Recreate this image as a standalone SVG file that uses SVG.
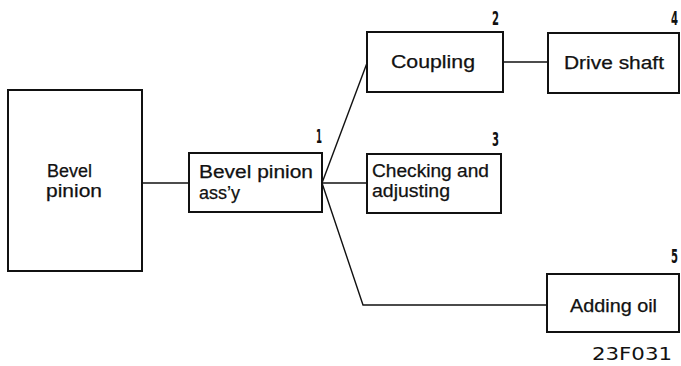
<svg xmlns="http://www.w3.org/2000/svg" width="681" height="366" viewBox="0 0 681 366">
<style>
.box{fill:#fff;stroke:#111;stroke-width:2}
.lbl{font-family:"Liberation Sans",Arial,sans-serif;font-size:17.5px;fill:#111;stroke:#111;stroke-width:0.25}
.num{font-family:"Liberation Sans Narrow","DejaVu Sans Condensed","Liberation Sans",sans-serif;font-size:20px;font-weight:bold;fill:#111;text-anchor:end}
.code{font-family:"DejaVu Sans","Liberation Sans",sans-serif;font-size:17px;fill:#111}
.conn{fill:none;stroke:#111;stroke-width:1.4}
</style>
<rect width="681" height="366" fill="#fff"/>
<g id="connectors">
<line class="conn" x1="142" y1="183" x2="189" y2="183"/>
<line class="conn" x1="322" y1="183" x2="367" y2="63"/>
<line class="conn" x1="322" y1="183" x2="367" y2="183"/>
<polyline class="conn" points="322,183 363,305 547,305"/>
<line class="conn" x1="503" y1="62" x2="548" y2="62"/>
</g>
<g id="bevel-pinion">
<rect class="box" x="8" y="90" width="134" height="181"/>
<text class="lbl" x="47" y="177" textLength="45" lengthAdjust="spacingAndGlyphs">Bevel</text>
<text class="lbl" x="46" y="197" textLength="56" lengthAdjust="spacingAndGlyphs">pinion</text>
</g>
<g id="bevel-pinion-assy">
<rect class="box" x="189" y="153" width="133" height="59"/>
<text class="lbl" x="199" y="178" textLength="114" lengthAdjust="spacingAndGlyphs">Bevel pinion</text>
<text class="lbl" x="199" y="199" textLength="41" lengthAdjust="spacingAndGlyphs">ass’y</text>
<text class="num" x="322" y="143" textLength="6" lengthAdjust="spacingAndGlyphs">1</text>
</g>
<g id="coupling">
<rect class="box" x="367" y="32" width="136" height="60"/>
<text class="lbl" x="391" y="68" textLength="84" lengthAdjust="spacingAndGlyphs">Coupling</text>
<text class="num" x="499" y="25" textLength="7" lengthAdjust="spacingAndGlyphs">2</text>
</g>
<g id="drive-shaft">
<rect class="box" x="548" y="33" width="131" height="60"/>
<text class="lbl" x="564" y="69" textLength="100" lengthAdjust="spacingAndGlyphs">Drive shaft</text>
<text class="num" x="678" y="25" textLength="7" lengthAdjust="spacingAndGlyphs">4</text>
</g>
<g id="checking-adjusting">
<rect class="box" x="367" y="154" width="134" height="59"/>
<text class="lbl" x="372" y="177" textLength="117" lengthAdjust="spacingAndGlyphs">Checking and</text>
<text class="lbl" x="372" y="197" textLength="78" lengthAdjust="spacingAndGlyphs">adjusting</text>
<text class="num" x="499" y="146" textLength="7" lengthAdjust="spacingAndGlyphs">3</text>
</g>
<g id="adding-oil">
<rect class="box" x="547" y="274" width="132" height="58"/>
<text class="lbl" x="570" y="312" textLength="87" lengthAdjust="spacingAndGlyphs">Adding oil</text>
<text class="num" x="678" y="263" textLength="7" lengthAdjust="spacingAndGlyphs">5</text>
</g>
<text class="code" x="592" y="360" textLength="80" lengthAdjust="spacingAndGlyphs">23F031</text>
</svg>
